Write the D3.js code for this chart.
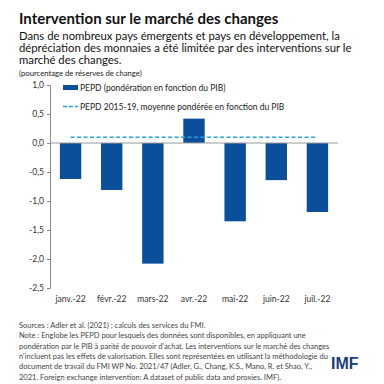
<!DOCTYPE html>
<html>
<head>
<meta charset="utf-8">
<script src="https://cdn.jsdelivr.net/npm/d3@7"></script>
<style>
  body { margin: 0; background: #fff; }
  svg { display: block; font-family: Lato, "Open Sans", sans-serif; }
</style>
</head>
<body>
<script>

var months = ["janv.-22", "févr.-22", "mars-22", "avr.-22", "mai-22", "juin-22", "juil.-22"];
var pepd = [-0.62, -0.81, -2.08, 0.42, -1.35, -0.64, -1.19];
var avg2015_19 = 0.1;
var yTicks = [1.0, 0.5, 0.0, -0.5, -1.0, -1.5, -2.0, -2.5];

var title = "Intervention sur le marché des changes";
var subtitle = [
    "Dans de nombreux pays émergents et pays en développement, la",
    "dépréciation des monnaies a été limitée par des interventions sur le",
    "marché des changes."
];
var unitLabel = "(pourcentage de réserves de change)";
var legendLabels = ["PEPD (pondération en fonction du PIB)", "PEPD 2015-19, moyenne pondérée en fonction du PIB"];
var footer = [
    "Sources : Adler et al. (2021) ; calculs des services du FMI.",
    "Note : Englobe les PEPD pour lesquels des données sont disponibles, en appliquant une",
    "pondération par le PIB à parité de pouvoir d'achat. Les interventions sur le marché des changes",
    "n'incluent pas les effets de valorisation. Elles sont représentées en utilisant la méthodologie du",
    "document de travail du FMI WP No. 2021/47 (Adler, G., Chang, K.S., Mano, R. et Shao, Y.,",
    "2021. Foreign exchange intervention: A dataset of public data and proxies. IMF)."
];

var w = 384, h = 384;
var barColor = "#0b4f9a";
var dashColor = "#27a3dc";

var svg = d3.select("body")
    .append("svg")
    .attr("width", w)
    .attr("height", h);

// titles
svg.append("text")
    .attr("x", 19).attr("y", 24)
    .attr("font-size", 15).attr("font-weight", "bold")
    .attr("fill", "#111")
    .text(title);

svg.selectAll(".sub")
    .data(subtitle)
    .enter()
    .append("text")
    .attr("x", 19)
    .attr("y", function(d, i) { return 40 + i * 12; })
    .attr("font-size", 11.3)
    .attr("fill", "#111")
    .text(function(d) { return d; });

svg.append("text")
    .attr("x", 19).attr("y", 75.5)
    .attr("font-size", 7.7)
    .attr("fill", "#222")
    .text(unitLabel);

var xScale = d3.scaleBand()
    .domain(months)
    .range([50, 338])
    .paddingInner(0.48)
    .paddingOuter(0.24);

var yScale = d3.scaleLinear()
    .domain([-2.5, 1])
    .range([288, 85]);

// y axis
var yAxis = d3.axisLeft(yScale)
    .tickValues(yTicks)
    .tickSize(3)
    .tickFormat(function(d) { return d3.format(".1f")(d).replace(".", ",").replace("−", "-"); });

var gy = svg.append("g")
    .attr("transform", "translate(50,0)")
    .call(yAxis);
gy.select(".domain").attr("stroke", "#8a8a8a");
gy.selectAll(".tick line").attr("stroke", "#8a8a8a");
gy.selectAll(".tick text")
    .attr("font-size", 8.5)
    .attr("fill", "#333")
    .attr("x", -6)
    .style("font-family", "Lato, sans-serif");

// bars
svg.selectAll(".bar")
    .data(pepd)
    .enter()
    .append("rect")
    .attr("x", function(d, i) { return xScale(months[i]); })
    .attr("y", function(d) { return yScale(Math.max(0, d)); })
    .attr("width", xScale.bandwidth())
    .attr("height", function(d) { return Math.abs(yScale(d) - yScale(0)); })
    .attr("fill", barColor);

// zero line
svg.append("line")
    .attr("x1", 50).attr("x2", 338)
    .attr("y1", yScale(0)).attr("y2", yScale(0))
    .attr("stroke", "#999")
    .attr("stroke-width", 1);

// average dashed line
svg.append("line")
    .attr("x1", xScale(months[0]) + xScale.bandwidth() / 2)
    .attr("x2", xScale(months[months.length - 1]) + xScale.bandwidth() / 2)
    .attr("y1", yScale(avg2015_19)).attr("y2", yScale(avg2015_19))
    .attr("stroke", dashColor)
    .attr("stroke-width", 1.5)
    .attr("stroke-dasharray", "4,2.5");

// x labels
svg.selectAll(".xlab")
    .data(months)
    .enter()
    .append("text")
    .attr("x", function(d) { return xScale(d) + xScale.bandwidth() / 2; })
    .attr("y", 302)
    .attr("text-anchor", "middle")
    .attr("font-size", 8.5)
    .attr("fill", "#333")
    .text(function(d) { return d; });

// legend
svg.append("rect")
    .attr("x", 63).attr("y", 85)
    .attr("width", 15).attr("height", 5)
    .attr("fill", barColor);
svg.append("line")
    .attr("x1", 63).attr("x2", 78)
    .attr("y1", 106.5).attr("y2", 106.5)
    .attr("stroke", dashColor)
    .attr("stroke-width", 1.5)
    .attr("stroke-dasharray", "4,2");
svg.selectAll(".leg")
    .data(legendLabels)
    .enter()
    .append("text")
    .attr("x", 80)
    .attr("y", function(d, i) { return 91 + i * 19; })
    .attr("font-size", 8.5)
    .attr("fill", "#222")
    .text(function(d) { return d; });

// footer
svg.selectAll(".foot")
    .data(footer)
    .enter()
    .append("text")
    .attr("x", 19)
    .attr("y", function(d, i) { return 328 + i * 10.3; })
    .attr("font-size", 7.5)
    .attr("fill", "#444")
    .text(function(d) { return d; });

// logo text
svg.append("text")
    .attr("x", 331).attr("y", 368.5)
    .attr("font-size", 16).attr("font-weight", "bold")
    .attr("fill", "#1c3c7a")
    .style("font-family", "'Liberation Sans', Arial, sans-serif")
    .text("IMF");

</script>
</body>
</html>
